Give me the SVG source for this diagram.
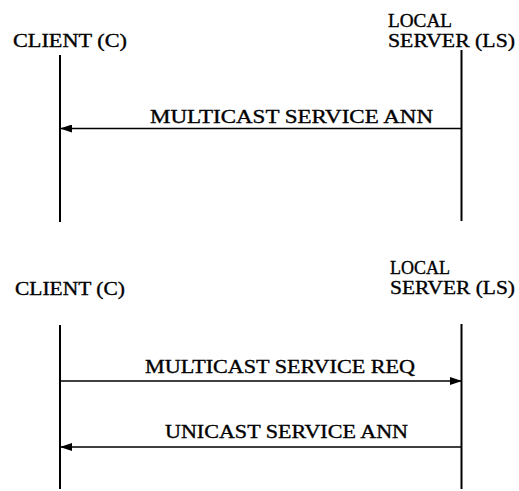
<svg xmlns="http://www.w3.org/2000/svg" width="519" height="491" viewBox="0 0 519 491">
<style>
text{font-family:"Liberation Serif","Times New Roman",serif;font-size:19px;fill:#000;stroke:#000;stroke-width:0.35}
.life{stroke:#000;stroke-width:2;fill:none}
.msg{stroke:#000;stroke-width:1.6;fill:none}
</style>
<defs>
<marker id="ah" markerWidth="12" markerHeight="8" refX="11" refY="4" orient="auto" markerUnits="userSpaceOnUse">
<path d="M0,0 L12,4 L0,8 Z" fill="#000"/>
</marker>
</defs>
<rect width="519" height="491" fill="#fff"/>
<g id="client1">
<text x="13" y="47" textLength="114" lengthAdjust="spacingAndGlyphs">CLIENT (C)</text>
<line class="life" x1="60" y1="55" x2="60" y2="222"/>
</g>
<g id="server1">
<text x="388" y="27" textLength="64" lengthAdjust="spacingAndGlyphs">LOCAL</text>
<text x="388" y="47" textLength="127" lengthAdjust="spacingAndGlyphs">SERVER (LS)</text>
<line class="life" x1="461.5" y1="50" x2="461.5" y2="221"/>
</g>
<g id="client2">
<text x="15" y="295" textLength="110" lengthAdjust="spacingAndGlyphs">CLIENT (C)</text>
<line class="life" x1="60" y1="325" x2="60" y2="489"/>
</g>
<g id="server2">
<text x="390" y="274" textLength="60" lengthAdjust="spacingAndGlyphs">LOCAL</text>
<text x="390" y="294" textLength="125" lengthAdjust="spacingAndGlyphs">SERVER (LS)</text>
<line class="life" x1="461.5" y1="324" x2="461.5" y2="489"/>
</g>
<g id="connectors">
<line class="msg" x1="461" y1="128.5" x2="61" y2="128.5" marker-end="url(#ah)"/>
<text x="150" y="123" textLength="283" lengthAdjust="spacingAndGlyphs">MULTICAST SERVICE ANN</text>
<line class="msg" x1="61" y1="381" x2="461" y2="381" marker-end="url(#ah)"/>
<text x="145" y="373" textLength="270" lengthAdjust="spacingAndGlyphs">MULTICAST SERVICE REQ</text>
<line class="msg" x1="461" y1="447" x2="61" y2="447" marker-end="url(#ah)"/>
<text x="165" y="438" textLength="243" lengthAdjust="spacingAndGlyphs">UNICAST SERVICE ANN</text>
</g>
</svg>
